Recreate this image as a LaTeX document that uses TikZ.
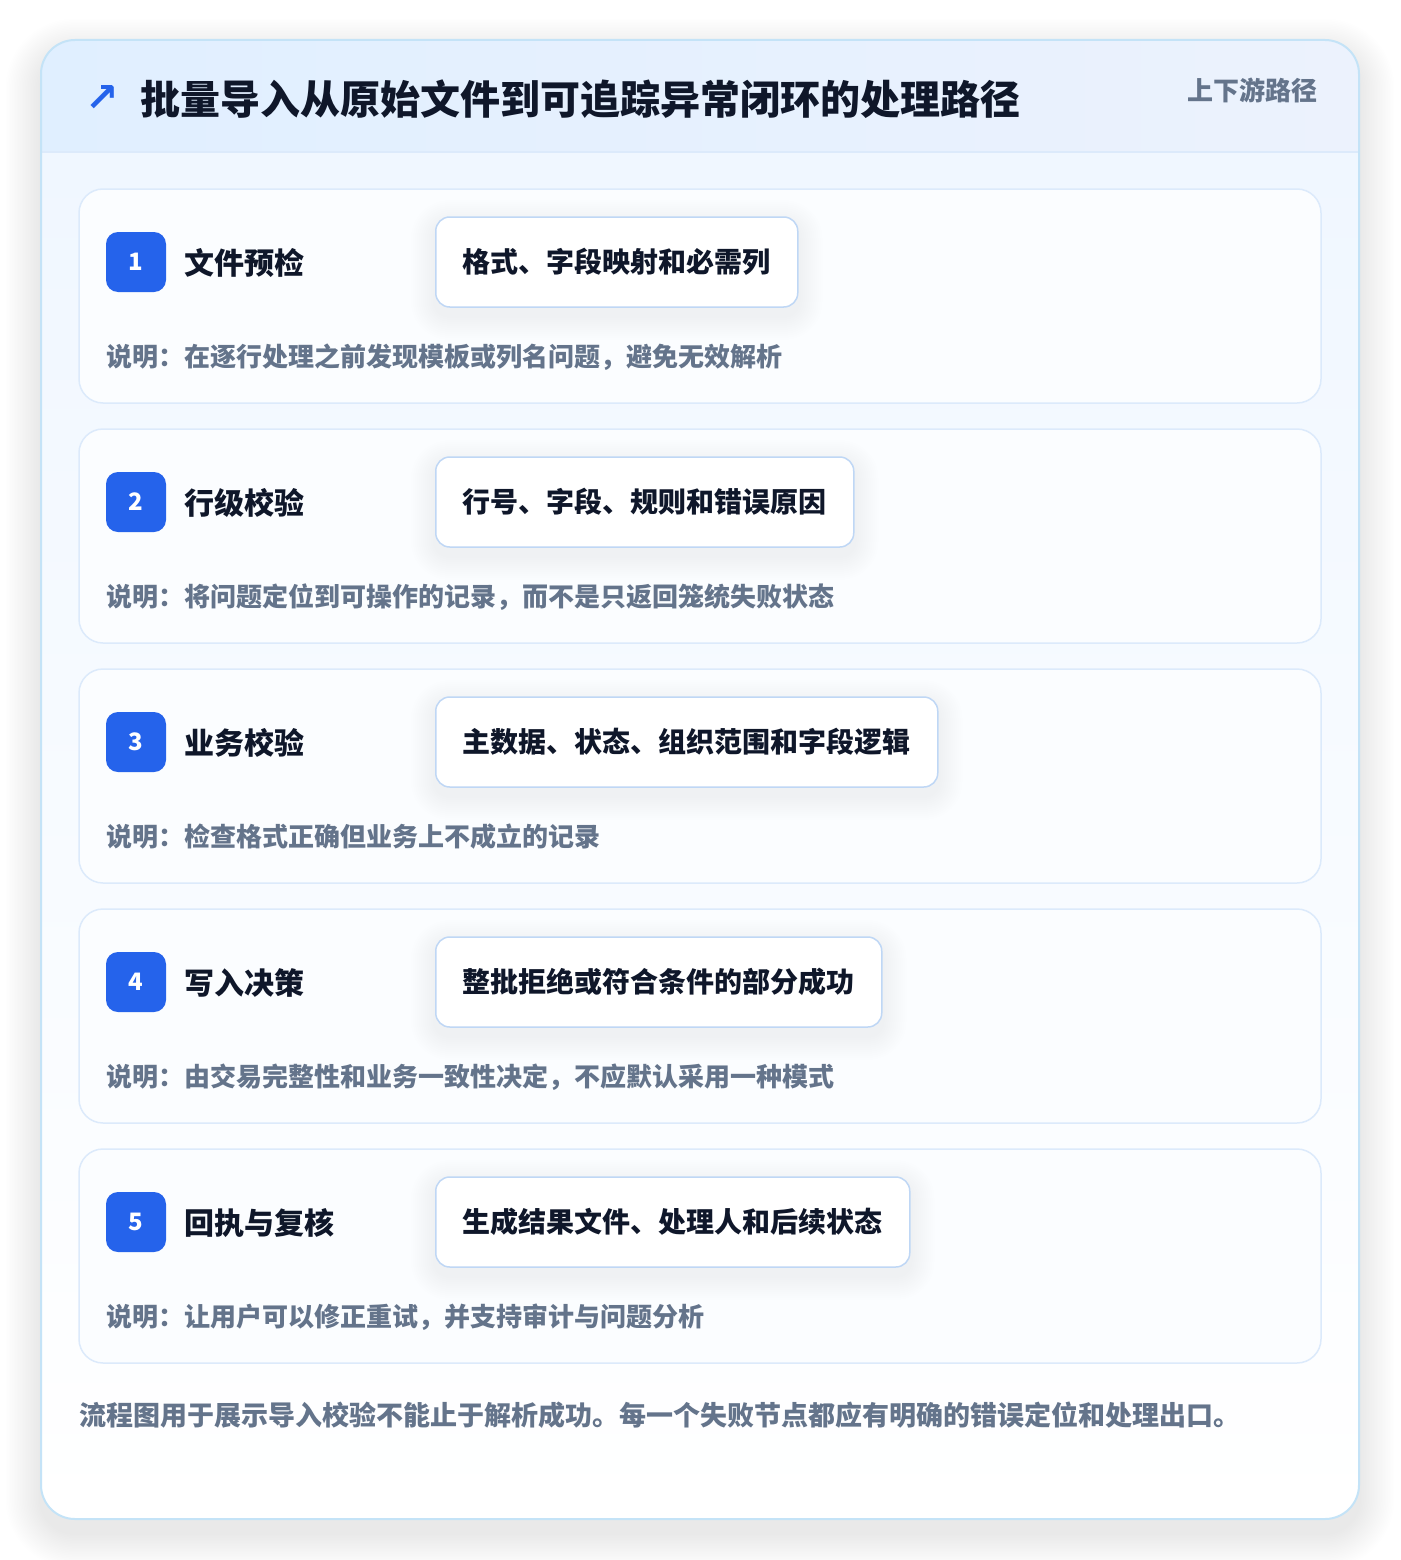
\documentclass[tikz,border=0pt]{standalone}
\usepackage{fontspec}
\setmainfont{Noto Sans CJK SC}
\newfontfamily\symfont{DejaVu Sans}
\definecolor{ink}{HTML}{0F172A}
\definecolor{muted}{HTML}{64748B}
\definecolor{brand}{HTML}{2563EB}
\definecolor{outerline}{HTML}{C4E3F7}
\definecolor{cardline}{HTML}{DCEAFB}
\definecolor{pillline}{HTML}{BFD7F5}
\definecolor{headL}{HTML}{E0EFFF}
\definecolor{headR}{HTML}{ECF2FD}
\definecolor{bodyT}{HTML}{F0F7FF}
\definecolor{bodyB}{HTML}{FFFFFF}
\definecolor{cardfill}{HTML}{FBFDFF}
\definecolor{shadowcol}{HTML}{1E293B}
\pgfdeclarelayer{backlayer}
\pgfdeclarelayer{cardlayer}
\pgfdeclarelayer{pillshadow}
\pgfsetlayers{backlayer,cardlayer,pillshadow,main}
\newcommand\mkshadow[6]{%
  \foreach \k in {1,...,#2}{%
    \pgfmathsetmacro\gg{\k*#3}%
    \pgfmathsetmacro\rr{#6+\k*#3}%
    \fill[shadowcol, opacity=#5, rounded corners=\rr pt]
      ([xshift=-\gg pt, yshift=\gg pt-#4pt]#1.north west) rectangle
      ([xshift=\gg pt, yshift=-\gg pt-#4pt]#1.south east);
  }}
\tikzset{
  fs/.style={font=\fontsize{#1pt}{#1pt}\selectfont\bfseries},
  cardbox/.style={draw=cardline, line width=1.5pt, fill=cardfill, rounded corners=24pt,
    minimum width=1242pt, minimum height=214pt, inner sep=0pt},
  badge/.style={fill=brand, rounded corners=12pt, minimum width=60pt, minimum height=60pt,
    inner sep=0pt, text=white, fs=24},
  steptitle/.style={anchor=west, inner sep=0pt, text=ink, fs=30},
  pill/.style={anchor=west, draw=pillline, line width=1.5pt, fill=white, rounded corners=14pt,
    minimum height=90pt, inner xsep=27pt, inner ysep=0pt, text=ink, fs=28},
  desc/.style={anchor=west, inner sep=0pt, text=muted, fs=26},
}
\begin{document}
\begin{tikzpicture}[x=1pt,y=-1pt]
\useasboundingbox (0,0) rectangle (1400,1560);
\begin{pgfonlayer}{backlayer}
\fill[white] (0,0) rectangle (1400,1560);
\end{pgfonlayer}
% outer card
\node[rounded corners=34pt, minimum width=1318pt, minimum height=1479pt, inner sep=0pt]
  (outer) at (700,779.5) {};
\begin{pgfonlayer}{backlayer}
\mkshadow{outer}{22}{1.6}{14}{0.0035}{34}
\fill[white, rounded corners=34pt] (41,40) rectangle (1359,1519);
\begin{scope}
  \clip[rounded corners=34pt] (41,40) rectangle (1359,1519);
  \shade[top color=bodyT, bottom color=bodyB] (41,152) rectangle (1359,1519);
  \shade[left color=headL, right color=headR] (41,40) rectangle (1359,152);
  \draw[cardline, line width=1.5pt] (41,152) -- (1359,152);
\end{scope}
\draw[outerline, line width=2pt, rounded corners=34pt] (41,40) rectangle (1359,1519);
\end{pgfonlayer}
% header
\node[anchor=center, inner sep=0pt, text=brand, font=\symfont\bfseries\fontsize{40pt}{40pt}\selectfont] (icon) at (102,99) {↗};
\node[anchor=west, inner sep=0pt, text=ink, fs=40] (title) at (140,99) {批量导入从原始文件到可追踪异常闭环的处理路径};
\node[anchor=east, inner sep=0pt, text=muted, fs=26] (tag) at (1318,90) {上下游路径};
% steps
\foreach \i/\name/\pilltext/\desctext in {
  1/文件预检/格式、字段映射和必需列/说明：在逐行处理之前发现模板或列名问题，避免无效解析,
  2/行级校验/行号、字段、规则和错误原因/说明：将问题定位到可操作的记录，而不是只返回笼统失败状态,
  3/业务校验/主数据、状态、组织范围和字段逻辑/说明：检查格式正确但业务上不成立的记录,
  4/写入决策/整批拒绝或符合条件的部分成功/说明：由交易完整性和业务一致性决定，不应默认采用一种模式,
  5/回执与复核/生成结果文件、处理人和后续状态/说明：让用户可以修正重试，并支持审计与问题分析}{
  \pgfmathsetmacro{\yo}{240*(\i-1)}
  \begin{pgfonlayer}{cardlayer}
  \node[cardbox] (card\i) at (700,296+\yo) {};
  \end{pgfonlayer}
  \node[badge] (badge\i) at (136,262+\yo) {\i};
  \node[steptitle] (name\i) at (184,263+\yo) {\name};
  \node[pill] (pill\i) at (435,262+\yo) {\pilltext};
  \begin{pgfonlayer}{pillshadow}
  \mkshadow{pill\i}{12}{2}{8}{0.0055}{14}
  \end{pgfonlayer}
  \node[desc] (desc\i) at (106,357+\yo) {\desctext};
}
% footer
\node[anchor=west, inner sep=0pt, text=muted, fs=27] (foot) at (79,1415)
  {流程图用于展示导入校验不能止于解析成功。每一个失败节点都应有明确的错误定位和处理出口。};
\end{tikzpicture}
\end{document}
